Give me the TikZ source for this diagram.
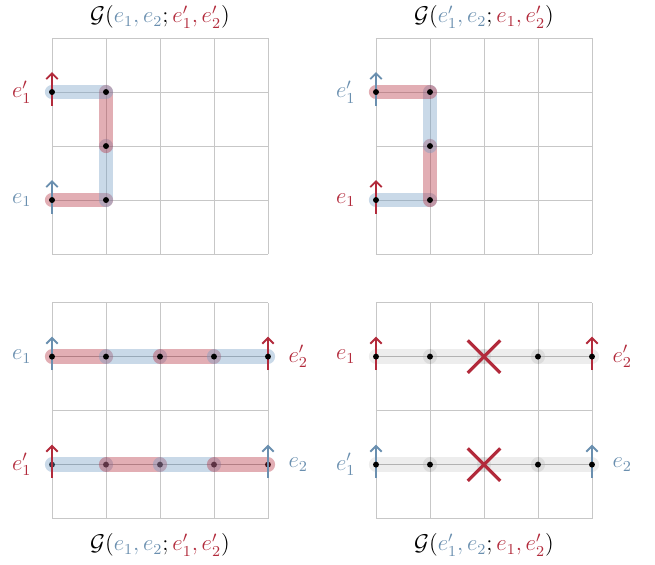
\documentclass[tikz,border=0pt]{standalone}
\usetikzlibrary{arrows.meta}
\definecolor{eblue}{RGB}{106,143,175}
\definecolor{ered}{RGB}{178,42,59}
\definecolor{bandblue}{RGB}{112,155,195}
\tikzset{
  gridline/.style={draw=black!22, line width=0.5pt},
  pathline/.style={draw=black!30, line width=0.6pt},
  hlblue/.style={draw=bandblue, draw opacity=0.38, line width=7.5pt, line cap=round},
  hlred/.style={draw=ered, draw opacity=0.38, line width=7.5pt, line cap=round},
  hlgray/.style={draw=black, draw opacity=0.07, line width=7.5pt, line cap=round},
  legblue/.style={draw=eblue, line width=1pt, -{Straight Barb[length=3pt,width=6pt]}},
  legred/.style={draw=ered, line width=1pt, -{Straight Barb[length=3pt,width=6pt]}},
  lab/.style={font=\large, inner sep=1pt},
  cross/.style={draw=ered, line width=1.6pt},
}
\begin{document}
\begin{tikzpicture}
\useasboundingbox (-0.963,-5.759) rectangle (11.167,4.704);

% top left
\begin{scope}
  \draw[gridline] (0,0) grid (4,4);
  \coordinate (a0) at (0,1);
  \coordinate (a1) at (1,1);
  \coordinate (a2) at (1,2);
  \coordinate (a3) at (1,3);
  \coordinate (a4) at (0,3);
  \draw[hlred] (a0) -- (a1);
  \draw[hlblue] (a1) -- (a2);
  \draw[hlred] (a2) -- (a3);
  \draw[hlblue] (a3) -- (a4);
  \draw[legblue] ([yshift=-0.25cm]a0) -- ([yshift=0.37cm]a0);
  \draw[legred] ([yshift=-0.25cm]a4) -- ([yshift=0.37cm]a4);
  \foreach \i in {0,...,4} \fill (a\i) circle (0.055);
  \node[lab, text=eblue] (ae1) at (-0.56,1) {$e_1$};
  \node[lab, text=ered] (ae1p) at (-0.56,3) {$e_1'$};
  \node[lab] (atitle) at (2,4.39) {$\mathcal{G}({\color{eblue}e_1,e_2};{\color{ered}e_1',e_2'})$};
\end{scope}

% top right
\begin{scope}[xshift=6cm]
  \draw[gridline] (0,0) grid (4,4);
  \coordinate (b0) at (0,1);
  \coordinate (b1) at (1,1);
  \coordinate (b2) at (1,2);
  \coordinate (b3) at (1,3);
  \coordinate (b4) at (0,3);
  \draw[hlblue] (b0) -- (b1);
  \draw[hlred] (b1) -- (b2);
  \draw[hlblue] (b2) -- (b3);
  \draw[hlred] (b3) -- (b4);
  \draw[legred] ([yshift=-0.25cm]b0) -- ([yshift=0.37cm]b0);
  \draw[legblue] ([yshift=-0.25cm]b4) -- ([yshift=0.37cm]b4);
  \foreach \i in {0,...,4} \fill (b\i) circle (0.055);
  \node[lab, text=ered] (be1) at (-0.56,1) {$e_1$};
  \node[lab, text=eblue] (be1p) at (-0.56,3) {$e_1'$};
  \node[lab] (btitle) at (2,4.39) {$\mathcal{G}({\color{eblue}e_1',e_2};{\color{ered}e_1,e_2'})$};
\end{scope}

% bottom left
\begin{scope}[yshift=-4.9cm]
  \draw[gridline] (0,0) grid[xstep=1,ystep=2] (4,4);
  \foreach \i in {0,...,4} {
    \coordinate (c\i) at (\i,3);
    \coordinate (d\i) at (\i,1);
  }
  \draw[pathline] (c0) -- (c4);
  \draw[pathline] (d0) -- (d4);
  \foreach \i in {0,...,4} \fill (d\i) circle (0.055);
  \draw[hlred] (c0) -- (c1);
  \draw[hlblue] (c1) -- (c2);
  \draw[hlred] (c2) -- (c3);
  \draw[hlblue] (c3) -- (c4);
  \draw[hlblue] (d0) -- (d1);
  \draw[hlred] (d1) -- (d2);
  \draw[hlblue] (d2) -- (d3);
  \draw[hlred] (d3) -- (d4);
  \draw[legblue] ([yshift=-0.25cm]c0) -- ([yshift=0.37cm]c0);
  \draw[legred] ([yshift=-0.25cm]c4) -- ([yshift=0.37cm]c4);
  \draw[legred] ([yshift=-0.25cm]d0) -- ([yshift=0.37cm]d0);
  \draw[legblue] ([yshift=-0.25cm]d4) -- ([yshift=0.37cm]d4);
  \foreach \i in {0,...,4} \fill (c\i) circle (0.055);
  \node[lab, text=eblue] (ce1) at (-0.56,3) {$e_1$};
  \node[lab, text=ered] (ce2p) at (4.56,3) {$e_2'$};
  \node[lab, text=ered] (de1p) at (-0.56,1) {$e_1'$};
  \node[lab, text=eblue] (de2) at (4.56,1) {$e_2$};
  \node[lab] (ctitle) at (2,-0.49) {$\mathcal{G}({\color{eblue}e_1,e_2};{\color{ered}e_1',e_2'})$};
\end{scope}

% bottom right
\begin{scope}[xshift=6cm, yshift=-4.9cm]
  \draw[gridline] (0,0) grid[xstep=1,ystep=2] (4,4);
  \foreach \i in {0,...,4} {
    \coordinate (f\i) at (\i,3);
    \coordinate (g\i) at (\i,1);
  }
  \foreach \i [evaluate=\i as \j using int(\i+1)] in {0,...,3} {
    \draw[hlgray] (f\i) -- (f\j);
    \draw[hlgray] (g\i) -- (g\j);
  }
  \draw[pathline] (f0) -- (f4);
  \draw[pathline] (g0) -- (g4);
  \draw[legred] ([yshift=-0.25cm]f0) -- ([yshift=0.37cm]f0);
  \draw[legred] ([yshift=-0.25cm]f4) -- ([yshift=0.37cm]f4);
  \draw[legblue] ([yshift=-0.25cm]g0) -- ([yshift=0.37cm]g0);
  \draw[legblue] ([yshift=-0.25cm]g4) -- ([yshift=0.37cm]g4);
  \foreach \i in {0,1,3,4} {
    \fill (f\i) circle (0.055);
    \fill (g\i) circle (0.055);
  }
  \draw[cross] ([shift={(-0.3,-0.3)}]f2) -- ([shift={(0.3,0.3)}]f2);
  \draw[cross] ([shift={(-0.3,0.3)}]f2) -- ([shift={(0.3,-0.3)}]f2);
  \draw[cross] ([shift={(-0.3,-0.3)}]g2) -- ([shift={(0.3,0.3)}]g2);
  \draw[cross] ([shift={(-0.3,0.3)}]g2) -- ([shift={(0.3,-0.3)}]g2);
  \node[lab, text=ered] (fe1) at (-0.56,3) {$e_1$};
  \node[lab, text=ered] (fe2p) at (4.56,3) {$e_2'$};
  \node[lab, text=eblue] (ge1p) at (-0.56,1) {$e_1'$};
  \node[lab, text=eblue] (ge2) at (4.56,1) {$e_2$};
  \node[lab] (ftitle) at (2,-0.49) {$\mathcal{G}({\color{eblue}e_1',e_2};{\color{ered}e_1,e_2'})$};
\end{scope}
\end{tikzpicture}
\end{document}
